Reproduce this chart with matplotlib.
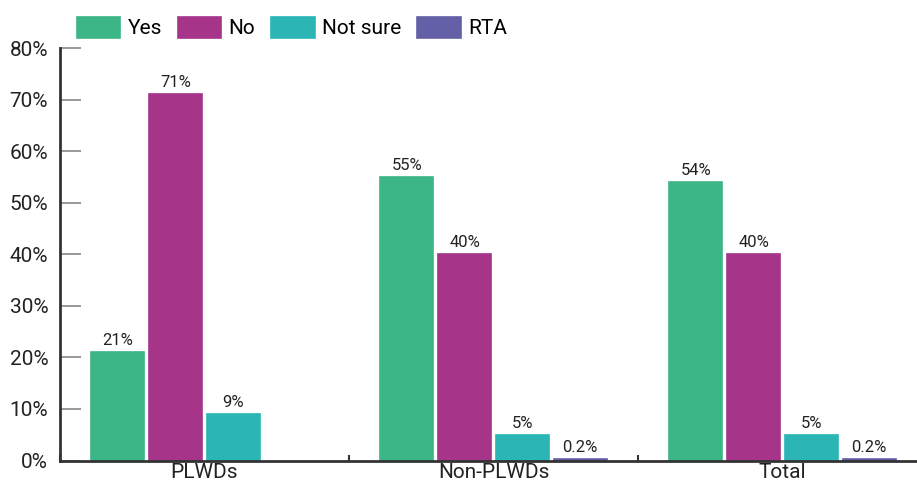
import numpy as np
import matplotlib.pyplot as plt

plt.rcParams['font.family'] = ['Roboto', 'DejaVu Sans']

groups = ['PLWDs', 'Non-PLWDs', 'Total']
series = ['Yes', 'No', 'Not sure', 'RTA']
yes = [21, 55, 54]
no = [71, 40, 40]
not_sure = [9, 5, 5]
rta = [np.nan, 0.2, 0.2]
labels_yes = ['21%', '55%', '54%']
labels_no = ['71%', '40%', '40%']
labels_not_sure = ['9%', '5%', '5%']
labels_rta = ['', '0.2%', '0.2%']
colors = ['#3cb587', '#a6358a', '#2bb5b5', '#6360a8']

fig = plt.figure(figsize=(9.17, 4.84), dpi=100)
ax = fig.add_axes([60/917, 23.5/484, 867/917, 412.5/484])

x = np.arange(len(groups))
width = 0.183
step = 0.2
all_vals = [yes, no, not_sure, rta]
all_labels = [labels_yes, labels_no, labels_not_sure, labels_rta]
for i, (vals, labs, name) in enumerate(zip(all_vals, all_labels, series)):
    pos = x + (i - 1.5) * step
    ax.bar(pos, vals, width, color=colors[i], label=name,
           edgecolor=colors[i], linewidth=1.2)
    for p, v, t in zip(pos, vals, labs):
        if t:
            ax.text(p, v + 0.8, t, ha='center', va='bottom', fontsize=12, color='#222222')

ax.set_ylim(0, 80)
ax.set_xlim(-0.5, 2.5)
ax.set_yticks(range(0, 81, 10))
ax.set_yticklabels([f'{v}%' for v in range(0, 81, 10)], fontsize=15, color='#222222')
ax.tick_params(axis='y', direction='in', length=15, width=1.2, color='#888888', pad=8.5)

ax.set_xticks([-0.5, 0.5, 1.5, 2.5])
ax.set_xticklabels([])
ax.set_xticks(x, minor=True)
ax.set_xticklabels(groups, minor=True, fontsize=15, color='#222222')
ax.tick_params(axis='x', which='major', direction='in', length=4.5, width=1.5, color='#333333')
ax.tick_params(axis='x', which='minor', length=0, pad=2)

for s in ['top', 'right']:
    ax.spines[s].set_visible(False)
for s in ['left', 'bottom']:
    ax.spines[s].set_color('#333333')
    ax.spines[s].set_linewidth(2)

fig.legend(loc='upper left', bbox_to_anchor=(60/917, 1.0), ncol=4, frameon=False,
           fontsize=15, handlelength=2.1, handleheight=1.2, columnspacing=0.75,
           handletextpad=0.35, borderaxespad=0.4)

fig.savefig('out.png', dpi=100)
